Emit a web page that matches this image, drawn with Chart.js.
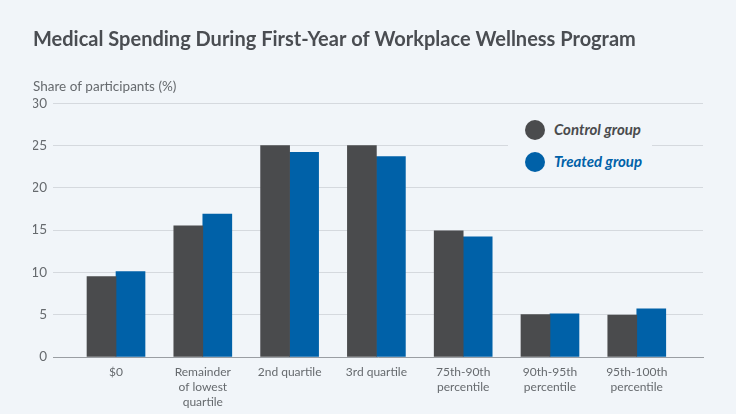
<!DOCTYPE html>
<html>
<head>
<meta charset="utf-8">
<script src="https://cdn.jsdelivr.net/npm/chart.js@4/dist/chart.umd.min.js"></script>
<style>
  html, body { margin: 0; padding: 0; background: #f1f5f9; }
  #wrap { position: relative; width: 736px; height: 414px; }
  #legend {
    position: absolute; left: 508px; top: 112px; width: 144px; height: 68px;
    background: #f1f5f9; font-family: Lato, sans-serif; font-weight: bold;
    font-style: italic; font-size: 15px;
  }
  #legend .item { position: absolute; left: 0; height: 20px; line-height: 20px; }
  #legend .dot { position: absolute; left: 17px; top: 0; width: 20px; height: 20px; border-radius: 50%; }
  #legend .txt { position: absolute; left: 46px; top: -1px; white-space: nowrap; }
</style>
</head>
<body>
<div id="wrap">
  <canvas id="graph"></canvas>
  <div id="legend"></div>
</div>
<script>
// カテゴリとデータ
var categories = [
  ['$0'],
  ['Remainder', 'of lowest', 'quartile'],
  ['2nd quartile'],
  ['3rd quartile'],
  ['75th-90th', 'percentile'],
  ['90th-95th', 'percentile'],
  ['95th-100th', 'percentile']
];
var controlValues = [9.5, 15.5, 25.0, 25.0, 14.9, 5.0, 4.95];
var treatedValues = [10.1, 16.9, 24.2, 23.7, 14.2, 5.1, 5.7];
var yTicks = [0, 5, 10, 15, 20, 25, 30];
var seriesNames = ['Control group', 'Treated group'];
var seriesColors = ['#4a4b4d', '#0061a8'];

function toPoints(values) {
  return values.map(function (v, i) { return { x: i, y: v }; });
}

var datasets = [controlValues, treatedValues].map(function (vals, i) {
  return {
    label: seriesNames[i],
    data: toPoints(vals),
    backgroundColor: seriesColors[i],
    borderWidth: 0,
    barThickness: 29
  };
});

// 凡例 (HTML)
var legend = document.getElementById('legend');
datasets.forEach(function (ds, i) {
  var item = document.createElement('div');
  item.className = 'item';
  item.style.top = (8 + i * 32) + 'px';
  item.innerHTML = '<span class="dot" style="background:' + ds.backgroundColor + '"></span>' +
    '<span class="txt" style="color:' + ds.backgroundColor + '">' + ds.label + '</span>';
  legend.appendChild(item);
});

var ctx = document.getElementById('graph').getContext('2d');
window.myChart = new Chart(ctx, {
  type: 'bar',
  data: { datasets: datasets },
  options: {
    responsive: true,
    maintainAspectRatio: false,
    animation: false,
    layout: { padding: { left: 33, right: 33, top: 0, bottom: 0 } },
    plugins: {
      legend: { display: false },
      tooltip: { enabled: false },
      title: {
        display: true,
        text: 'Medical Spending During First-Year of Workplace Wellness Program',
        align: 'start',
        color: '#4a4d52',
        font: { family: 'Lato', size: 20, weight: 'bold' },
        padding: { top: 28, bottom: 0 }
      },
      subtitle: {
        display: true,
        text: 'Share of participants (%)',
        align: 'start',
        color: '#666a6e',
        font: { family: 'Lato', size: 13.5 },
        padding: { top: 27, bottom: 8 }
      }
    },
    scales: {
      x: {
        type: 'linear',
        offset: false,
        min: -0.726,
        max: 6.763,
        grid: { display: false, offset: false },
        border: { display: true, color: '#9a9ea3', width: 1 },
        afterBuildTicks: function (scale) {
          scale.ticks = categories.map(function (c, i) { return { value: i }; });
        },
        afterFit: function (scale) { scale.height = 57; },
        ticks: {
          autoSkip: false,
          maxRotation: 0,
          padding: 0,
          color: '#666a6e',
          font: { family: 'Lato', size: 12, lineHeight: 1.25 },
          callback: function (v) { return categories[v]; }
        }
      },
      y: {
        min: 0,
        max: 30,
        afterBuildTicks: function (scale) {
          scale.ticks = yTicks.map(function (t) { return { value: t }; });
        },
        afterFit: function (scale) { scale.width = 20; },
        grid: { color: '#d5d9de', drawTicks: false },
        border: { display: false },
        ticks: {
          padding: 6,
          color: '#666a6e',
          font: { family: 'Lato', size: 13.5 }
        }
      }
    }
  }
});
</script>
</body>
</html>
